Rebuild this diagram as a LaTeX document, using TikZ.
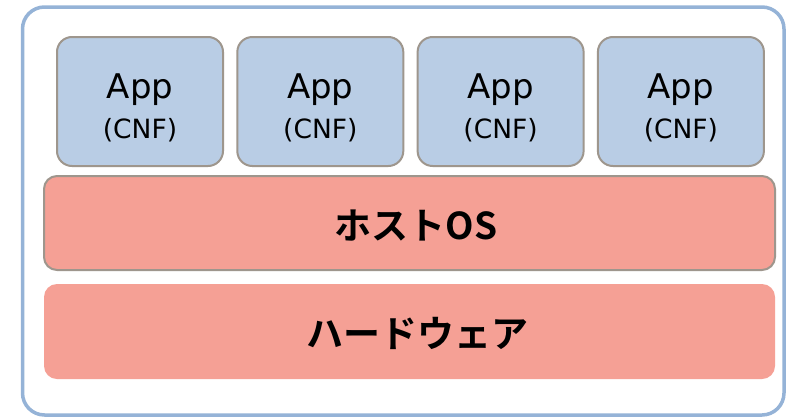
\documentclass[tikz,border=0pt]{standalone}
\usepackage{fontspec}
\setmainfont{DejaVu Sans}
\newfontfamily\jpbold{Noto Sans CJK JP Bold}
\definecolor{frameblue}{HTML}{95B3D7}
\definecolor{appfill}{HTML}{B9CDE5}
\definecolor{boxedge}{HTML}{9E968D}
\definecolor{layerfill}{HTML}{F5A095}
\tikzset{
  appbox/.style={draw=boxedge, line width=2pt, fill=appfill, rounded corners=15pt},
  layerbox/.style={fill=layerfill, rounded corners=13pt},
  applabel/.style={font=\fontsize{34}{34}\selectfont, anchor=base},
  cnflabel/.style={font=\fontsize{26.5}{26.5}\selectfont, anchor=base},
  jplabel/.style={font=\jpbold\fontsize{37}{37}\selectfont}
}
\begin{document}
\begin{tikzpicture}[x=1pt,y=-1pt]
\useasboundingbox (0,0) rectangle (789,418);
% outer frame
\draw[frameblue, line width=3.5pt, rounded corners=22pt, fill=white] (22.5,7) rectangle (784,415);
% application containers
\foreach \i in {0,1,2,3}{
  \pgfmathsetmacro{\xl}{57+180.3*\i}
  \pgfmathsetmacro{\xc}{\xl+83}
  \path[appbox] (\xl,37) rectangle ++(166,129);
  \node[applabel] (app\i) at (\xc,98) {App};
  \node[cnflabel] (cnf\i) at (\xc,138) {(CNF)};
}
% host OS layer
\path[layerbox, draw=boxedge, line width=2pt] (44,176) rectangle (775,270);
\node[jplabel] (hostos) at (416,226) {ホストOS};
% hardware layer
\path[layerbox] (44,284) rectangle (775,379);
\node[jplabel] (hw) at (417,333) {ハードウェア};
\end{tikzpicture}
\end{document}
